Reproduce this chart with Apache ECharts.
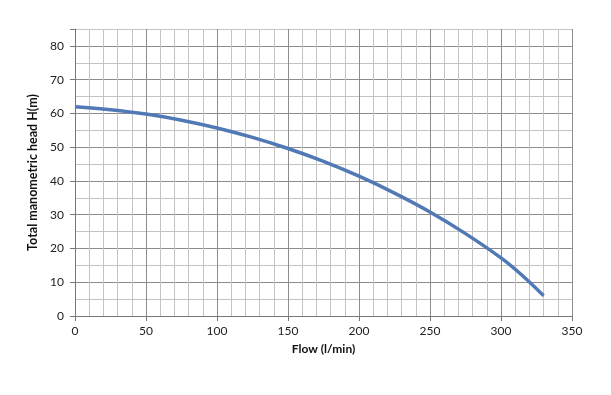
<!DOCTYPE html>
<html><head><meta charset="utf-8">
<script src="https://cdn.jsdelivr.net/npm/echarts@6/dist/echarts.min.js"></script>
<style>html,body{margin:0;padding:0;background:#fff}#c{width:611px;height:395px}</style>
</head><body><div id="c"></div>
<script>
var flow = [0, 25, 50, 75, 100, 125, 150, 175, 200, 225, 250, 275, 300, 315, 330];
var head = [62, 61.1, 59.8, 58.0, 55.7, 52.9, 49.6, 45.8, 41.4, 36.4, 30.8, 24.4, 17.2, 12.0, 6.0];
var xName = 'Flow (l/min)';
var yName = 'Total manometric head H(m)';

var pts = flow.map(function (q, i) { return [q, head[i]]; });
var font = 'Lato, "Open Sans", sans-serif';
var chart = echarts.init(document.getElementById('c'));
chart.setOption({
  animation: false,
  backgroundColor: '#fff',
  grid: { left: 75, right: 39, top: 29, bottom: 79, containLabel: false },
  xAxis: {
    type: 'value', min: 0, max: 350, interval: 50,
    name: xName, nameLocation: 'middle', nameGap: 27,
    nameTextStyle: { fontFamily: font, fontWeight: 'bold', fontSize: 12, color: '#111' },
    axisLine: { show: true, lineStyle: { color: '#777', width: 1 } },
    axisTick: { show: true, length: 5, lineStyle: { color: '#777' } },
    axisLabel: { margin: 9, fontFamily: font, fontSize: 12, color: '#222' },
    splitLine: { show: true, lineStyle: { color: '#8c8c8c', width: 1 } },
    minorTick: { show: false, splitNumber: 5 },
    minorSplitLine: { show: true, lineStyle: { color: '#c4c4c4', width: 1 } }
  },
  yAxis: [{
    type: 'value', min: 0, max: 85, interval: 5,
    name: yName, nameLocation: 'middle', nameGap: 28,
    nameTextStyle: { fontFamily: font, fontWeight: 'bold', fontSize: 12.5, color: '#111' },
    axisLine: { show: true, lineStyle: { color: '#777', width: 1 } },
    axisTick: { show: false },
    axisLabel: { margin: 11, fontFamily: font, fontSize: 12, color: '#222',
      formatter: function (v) { return v % 10 === 0 ? String(v) : ''; } },
    splitLine: { show: true, lineStyle: { color: ['#8c8c8c', '#c4c4c4'], width: 1 } }
  }, {
    type: 'value', min: 0, max: 85, interval: 10, position: 'left', offset: 0,
    axisLine: { show: false },
    axisTick: { show: true, length: 5, lineStyle: { color: '#777' } },
    axisLabel: { show: false },
    splitLine: { show: false }
  }],
  series: [{
    type: 'line', data: pts, smooth: 0.4, showSymbol: false, symbol: 'none',
    lineStyle: { color: '#5079b5', width: 3.5 }
  }]
});
</script></body></html>
